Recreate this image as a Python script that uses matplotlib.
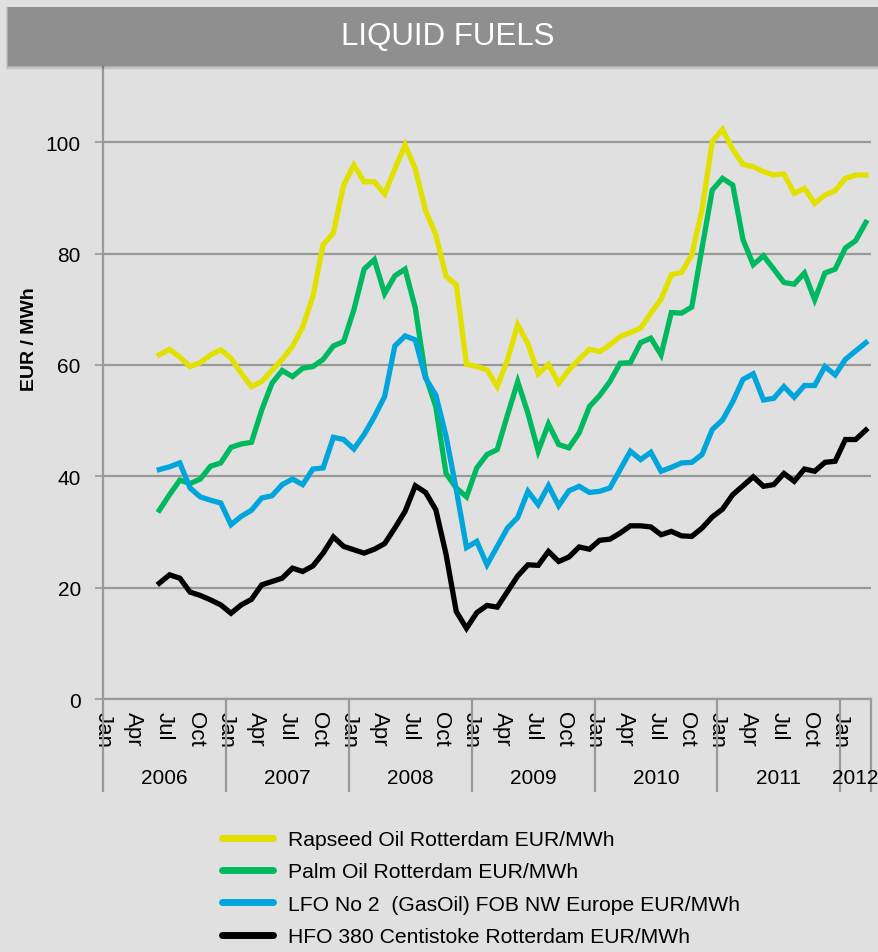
import numpy as np
import matplotlib
matplotlib.use("Agg")
import matplotlib.pyplot as plt
from matplotlib.patches import Rectangle
from matplotlib.lines import Line2D

plt.rcParams['font.family'] = ['Liberation Sans', 'DejaVu Sans']

# ---------------- data ----------------
title = "LIQUID FUELS"
ylabel = "EUR / MWh"
start_month = 5          # Jun 2006 (months counted from Jan 2006)
month_labels = ["Jan", "Apr", "Jul", "Oct"]
years = ["2006", "2007", "2008", "2009", "2010", "2011", "2012"]

rapeseed = [61.8, 62.8, 61.4, 59.7, 60.4, 61.8, 62.7, 61.2, 58.5, 56.1,
            57.0, 59.0, 61.0, 63.3, 66.8, 72.3, 81.6, 83.7, 92.3, 95.9,
            92.9, 92.9, 90.7, 95.2, 99.5, 95.2, 87.7, 83.4, 75.9, 74.4,
            60.1, 59.7, 59.1, 56.1, 60.9, 67.2, 63.8, 58.4, 60.1, 56.7,
            59.1, 61.0, 62.8, 62.4, 63.6, 65.1, 65.8, 66.6, 69.3, 71.8,
            76.2, 76.6, 79.8, 87.9, 100.1, 102.3, 98.7, 96.0, 95.6, 94.7,
            94.1, 94.3, 90.8, 91.7, 89.0, 90.5, 91.3, 93.5, 94.1, 94.1]
palm = [33.9, 36.7, 39.3, 38.7, 39.5, 41.8, 42.4, 45.2, 45.8, 46.1,
        51.9, 56.7, 59.0, 57.9, 59.4, 59.7, 61.0, 63.4, 64.2, 69.9,
        77.2, 78.9, 72.8, 76.0, 77.2, 70.2, 58.0, 52.5, 40.5, 37.9,
        36.3, 41.5, 43.9, 44.8, 51.0, 57.0, 51.3, 44.5, 49.4, 45.7,
        45.1, 47.8, 52.5, 54.5, 57.0, 60.3, 60.4, 64.0, 64.8, 61.8,
        69.4, 69.3, 70.4, 81.0, 91.4, 93.5, 92.3, 82.5, 78.0, 79.6,
        77.2, 74.8, 74.5, 76.5, 71.7, 76.5, 77.2, 81.0, 82.3, 85.6]
lfo = [41.2, 41.7, 42.4, 37.9, 36.3, 35.7, 35.2, 31.3, 32.8, 33.9,
       36.1, 36.5, 38.5, 39.5, 38.5, 41.3, 41.5, 47.0, 46.6, 44.9,
       47.5, 50.7, 54.3, 63.4, 65.2, 64.5, 57.6, 54.6, 47.2, 37.6,
       27.2, 28.3, 24.1, 27.4, 30.7, 32.6, 37.3, 34.9, 38.3, 34.7,
       37.4, 38.2, 37.1, 37.3, 37.9, 41.2, 44.5, 43.0, 44.3, 40.9,
       41.6, 42.4, 42.5, 43.9, 48.4, 50.1, 53.4, 57.4, 58.4, 53.7,
       54.0, 56.1, 54.2, 56.3, 56.3, 59.7, 58.2, 61.0, 62.5, 64.0]
hfo = [20.8, 22.3, 21.7, 19.2, 18.6, 17.8, 16.9, 15.4, 16.9, 17.9,
       20.5, 21.1, 21.7, 23.5, 22.9, 23.9, 26.2, 29.1, 27.4, 26.8,
       26.2, 26.9, 27.9, 30.7, 33.7, 38.3, 37.1, 34.0, 26.0, 15.7,
       12.7, 15.5, 16.8, 16.5, 19.3, 22.1, 24.1, 24.0, 26.5, 24.7,
       25.5, 27.3, 26.9, 28.5, 28.7, 29.8, 31.1, 31.1, 30.9, 29.5,
       30.1, 29.3, 29.2, 30.7, 32.7, 34.1, 36.7, 38.3, 39.9, 38.2,
       38.5, 40.5, 39.1, 41.3, 40.9, 42.5, 42.7, 46.6, 46.6, 48.3]

series_names = ["Rapseed Oil Rotterdam EUR/MWh",
                "Palm Oil Rotterdam EUR/MWh",
                "LFO No 2  (GasOil) FOB NW Europe EUR/MWh",
                "HFO 380 Centistoke Rotterdam EUR/MWh"]
series = [rapeseed, palm, lfo, hfo]
colors = ["#E2E000", "#00B95F", "#00A5DC", "#000000"]

# ---------------- figure ----------------
W, H = 879, 953
bg = "#E0E0E0"
fig = plt.figure(figsize=(W / 100, H / 100), dpi=100, facecolor=bg)

ax_l, ax_r, ax_t, ax_b = 103, 871, 68, 700
ax = fig.add_axes([ax_l / W, 1 - ax_b / H, (ax_r - ax_l) / W, (ax_b - ax_t) / H])
ax.set_facecolor(bg)

n_months = 75
x = np.arange(start_month, start_month + len(rapeseed)) + 0.5
for vals, c, name in zip(series, colors, series_names):
    ax.plot(x, vals, color=c, lw=3.8, solid_joinstyle='miter', label=name, zorder=3)

ax.set_xlim(0, n_months)
ax.set_ylim(0, 113.5)
ax.set_yticks([0, 20, 40, 60, 80, 100])
ax.yaxis.grid(True, color="#999999", lw=1.6)
ax.set_axisbelow(True)
ax.tick_params(axis='y', labelsize=15, length=6, color="#999999", width=1.2, pad=10)

xt = np.arange(0, 73, 3)
ax.set_xticks(xt)
ax.set_xticklabels([month_labels[(t // 3) % 4] for t in xt], rotation=270,
                   fontsize=16, va='top', ha='center')
ax.tick_params(axis='x', length=0, pad=9)

for s in ['top', 'right']:
    ax.spines[s].set_visible(False)
ax.spines['left'].set_color("#999999")
ax.spines['left'].set_linewidth(1.6)
ax.spines['bottom'].set_color("#999999")
ax.spines['bottom'].set_linewidth(1.6)

# year separators and labels
trans = ax.get_xaxis_transform()
ah = ax_b - ax_t
sep_bottom = -(792 - ax_b) / ah
for k in range(len(years)):
    ax.plot([12 * k, 12 * k], [0, sep_bottom], transform=trans, color="#999999",
            lw=1.6, clip_on=False)
ax.plot([n_months, n_months], [0, sep_bottom], transform=trans, color="#999999",
        lw=1.6, clip_on=False)
for k, yr in enumerate(years):
    x0 = 12 * k
    x1 = min(12 * (k + 1), n_months)
    ax.text((x0 + x1) / 2, -(779 - ax_b) / ah, yr, transform=trans,
            ha='center', va='center', fontsize=15)

# y label
fig.text(30 / W, 1 - 339 / H, ylabel, rotation=90, ha='center', va='center',
         fontsize=14, fontweight='bold')

# header bar with shadow
for i, a in enumerate([0.05, 0.05, 0.06, 0.07]):
    off = 4 - i
    fig.add_artist(Rectangle((8 / W - off / W * 0.5, 1 - (67 + off) / H), 1, (59 + off) / H,
                             transform=fig.transFigure, color='black', alpha=a,
                             lw=0, zorder=4))
fig.add_artist(Rectangle((8 / W, 1 - 67 / H), 1, 59 / H, transform=fig.transFigure,
                         color="#8F8F8F", lw=0, zorder=5))
fig.text(448 / W, 1 - 37 / H, title, ha='center', va='center', color='white',
         fontsize=22.5, zorder=6)

# legend (proxy handles with thicker, rounded lines)
leg_handles = [Line2D([], [], color=c, lw=5, solid_capstyle='round') for c in colors]
fig.legend(handles=leg_handles, labels=series_names, loc='upper left',
           bbox_to_anchor=(222 / W, 1 - 831 / H), frameon=False, fontsize=15.2,
           handlelength=2.4, handletextpad=0.75, labelspacing=0.63,
           borderpad=0, borderaxespad=0)

fig.savefig("out.png", dpi=100, facecolor=bg)
